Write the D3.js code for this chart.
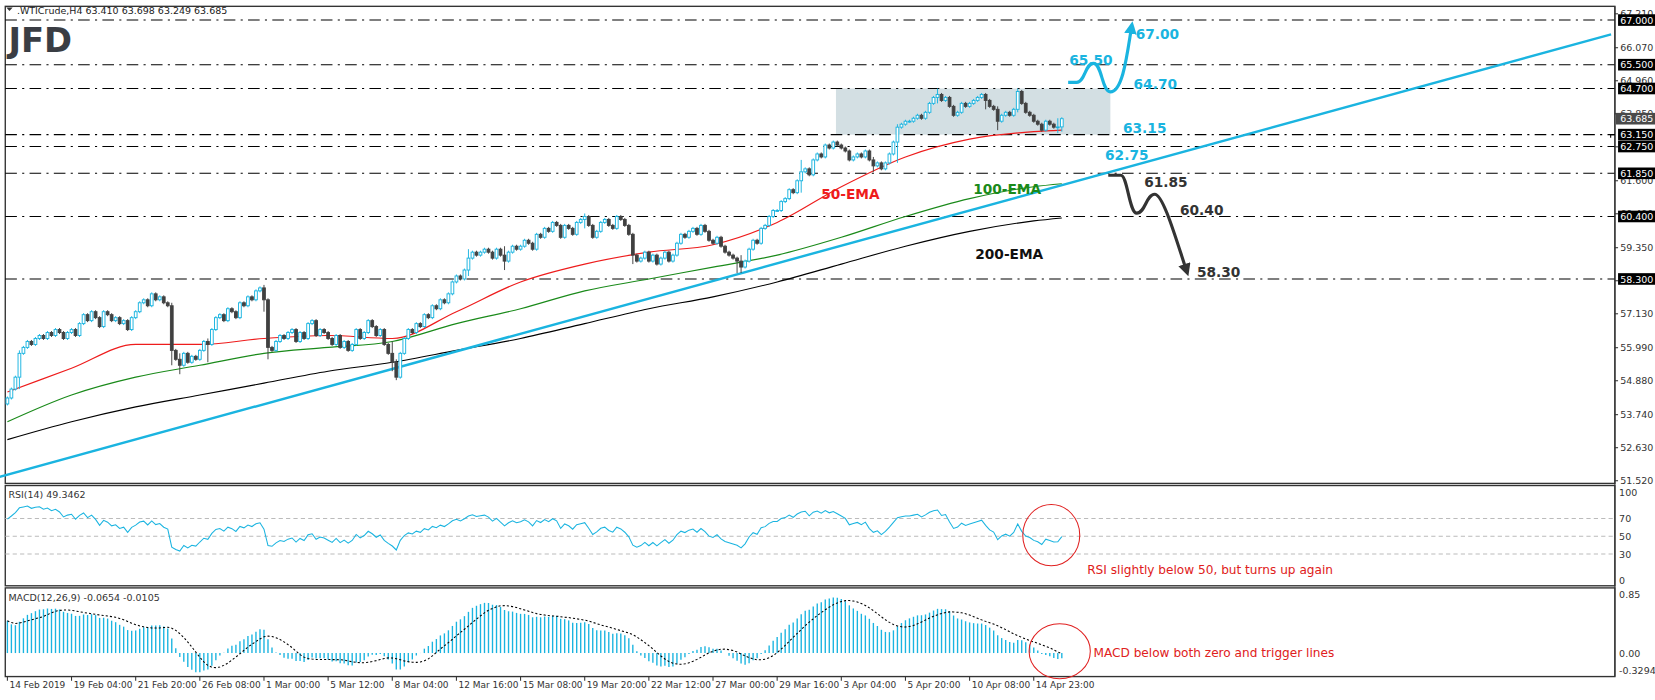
<!DOCTYPE html>
<html>
<head>
<meta charset="utf-8">
<script src="https://cdn.jsdelivr.net/npm/d3@7"></script>
<style>
  body { margin: 0; background: #fff; }
  text { font-family: "DejaVu Sans", Tahoma, sans-serif; }
</style>
</head>
<body>
<svg id="chart" width="1655" height="700"></svg>
<script>
// closes per H4 bar (16 bars per date label)
var closes = [
  54.3,54.6,55.0,55.8,56.0,56.2,56.1,56.3,56.4,56.3,56.5,56.4,56.6,56.5,56.3,56.5,
  56.6,56.4,56.8,57.1,56.9,57.2,57.0,56.7,57.2,57.1,56.9,57.0,56.8,56.9,56.6,57.0,
  57.2,57.5,57.6,57.4,57.8,57.6,57.7,57.5,57.4,55.9,55.6,55.4,55.8,55.5,55.7,55.6,
  55.9,56.2,56.1,56.6,57.0,57.1,56.9,57.3,57.2,57.0,57.5,57.4,57.7,57.6,57.9,58.0,
  57.6,56.0,55.9,56.2,56.4,56.3,56.5,56.6,56.2,56.5,56.3,56.8,56.9,56.4,56.6,56.5,
  56.3,56.1,56.4,56.0,56.2,55.9,56.1,56.6,56.3,56.5,56.9,56.7,56.4,56.6,56.1,55.8,
  55.5,55.0,55.8,56.3,56.6,56.5,56.8,56.7,57.1,57.0,57.4,57.3,57.6,57.5,57.8,58.2,
  58.4,58.3,58.6,59.0,59.2,59.1,59.2,59.3,59.2,59.0,59.3,59.1,58.9,59.2,59.4,59.3,
  59.4,59.6,59.5,59.3,59.8,59.7,60.0,59.9,60.2,60.1,59.7,60.1,60.0,59.8,60.2,60.3,
  60.4,60.1,59.7,59.9,60.2,60.3,60.1,60.0,60.4,60.3,60.1,59.8,59.1,58.9,59.0,59.2,
  58.9,59.1,58.8,59.0,59.2,58.9,59.1,59.5,59.8,59.7,59.9,60.0,59.8,60.1,59.9,59.6,
  59.5,59.7,59.4,59.2,59.1,59.0,58.9,58.7,58.9,59.3,59.6,59.5,60.0,60.1,60.4,60.6,
  60.6,60.9,61.0,61.3,61.2,61.6,61.9,62.0,61.8,62.3,62.5,62.4,62.8,62.7,62.9,62.8,
  62.7,62.6,62.3,62.4,62.5,62.4,62.6,62.3,62.1,62.2,62.0,62.2,62.5,62.9,63.4,63.5,
  63.6,63.6,63.7,63.8,63.7,63.9,64.2,64.4,64.5,64.3,64.4,64.1,63.8,63.9,64.2,64.1,
  64.2,64.3,64.4,64.5,64.3,64.1,64.0,63.6,63.8,63.9,63.8,64.0,64.6,64.2,63.9,63.8,
  63.6,63.5,63.3,63.6,63.5,63.4,63.41,63.685
];
var firstOpen = 54.1;
// notable long wicks [bar, high, low]
var wicks = [[3,55.9,54.6],[41,57.5,55.4],[43,55.8,55.1],[50,56.3,55.5],[64,58.1,57.2],[65,57.6,55.6],
  [96,56.2,55.2],[97,55.6,54.9],[115,59.3,58.4],[124,59.4,58.6],[144,60.5,60.0],[156,59.3,58.8],
  [182,59.0,58.5],[183,59.1,58.5],[198,62.3,61.2],[216,62.4,61.9],[222,63.5,62.2],[232,64.7,64.2],
  [244,64.5,64.0],[247,64.1,63.3],[252,64.7,63.9],[262,63.7,63.2],[263,63.698,63.249]];

// moving averages read at each date label (bar index every 16) plus last bar
var emaBars = [0,16,32,48,64,80,96,112,128,144,160,176,192,208,224,240,256,263];
var ema50  = [54.5,55.3,56.1,56.1,56.3,56.4,56.3,57.2,58.2,58.8,59.2,59.45,60.2,61.4,62.4,63.0,63.25,63.3];
var ema100 = [53.5,54.4,55.0,55.4,55.8,56.0,56.2,56.8,57.3,57.9,58.3,58.7,59.1,59.7,60.4,61.0,61.4,61.5];
var ema200 = [52.9,53.5,54.0,54.4,54.8,55.2,55.5,55.9,56.3,56.8,57.3,57.7,58.2,58.8,59.4,59.9,60.25,60.35];

var levels = [67.00,65.50,64.70,63.15,62.75,61.85,60.40,58.30];
var priceTicks = [67.210,66.070,64.960,63.850,62.740,61.600,60.490,59.350,58.240,57.130,55.990,54.880,53.740,52.630,51.520];
var dateLabels = ["14 Feb 2019","19 Feb 04:00","21 Feb 20:00","26 Feb 08:00","1 Mar 00:00","5 Mar 12:00","8 Mar 04:00",
  "12 Mar 16:00","15 Mar 08:00","19 Mar 20:00","22 Mar 12:00","27 Mar 00:00","29 Mar 16:00","3 Apr 04:00",
  "5 Apr 20:00","10 Apr 08:00","14 Apr 23:00"];
var trendline = [[-8,51.43],[400,66.52]]; // bar index, price

var blue = "#1ab4e0", dark = "#404040";
// layout measured on a 1568-wide view of the reference, scaled up to 1655
var svg = d3.select("#chart").append("g").attr("transform", "scale(" + (1655 / 1568) + ")");
var W = 1530, L = 5;
var x = d3.scaleLinear().domain([0, 263]).range([L + 2, 1006]);
var y = d3.scaleLinear().domain([51.43, 67.39]).range([458, 8]);
var yR = d3.scaleLinear().domain([0, 100]).range([550, 466]);

// bars
var bars = closes.map(function(c, i) {
  var o = i == 0 ? firstOpen : closes[i - 1];
  return {i: i, o: o, c: c, h: Math.max(o, c) + 0.05, l: Math.min(o, c) - 0.05};
});
wicks.forEach(function(w) { bars[w[0]].h = Math.max(bars[w[0]].h, w[1]); bars[w[0]].l = Math.min(bars[w[0]].l, w[2]); });
bars[263].o = 63.41;

// indicators from closes
function ema(arr, n, seed) { var k = 2 / (n + 1), v = seed; return arr.map(function(c) { v = v + k * (c - v); return v; }); }
var e12 = ema(closes, 12, 54.9), e26 = ema(closes, 26, 54.35);
var macd = e12.map(function(v, i) { return v - e26[i]; });
var signal = macd.map(function(v, i) { var s = macd.slice(Math.max(0, i - 8), i + 1); return d3.mean(s); });
var rsi = [], ag = 0.12, al = 0.06;
closes.forEach(function(c, i) {
  var ch = c - (i == 0 ? firstOpen : closes[i - 1]);
  ag = (ag * 13 + Math.max(ch, 0)) / 14; al = (al * 13 + Math.max(-ch, 0)) / 14;
  rsi.push(100 - 100 / (1 + ag / al));
});

// panels
function frame(y0, y1) {
  svg.append("rect").attr("x", L).attr("y", y0).attr("width", W - L).attr("height", y1 - y0)
    .attr("fill", "none").attr("stroke", "#333").attr("stroke-width", 1.3);
}
frame(6, 458); frame(460, 555); frame(557, 641);

// grey range box
svg.append("rect").attr("x", 792).attr("y", y(64.70)).attr("width", 260).attr("height", y(63.15) - y(64.70))
  .attr("fill", "#d3dfe3");

// levels
svg.selectAll(".lev").data(levels).enter().append("line")
  .attr("x1", L).attr("x2", W).attr("y1", function(d) { return y(d); }).attr("y2", function(d) { return y(d); })
  .attr("stroke", "#000").attr("stroke-dasharray", "11,5,2,5");

// emas
var emaLine = d3.line().curve(d3.curveMonotoneX).x(function(d) { return x(d[0]); }).y(function(d) { return y(d[1]); });
[[ema200, "#000"], [ema100, "#1a8a1a"], [ema50, "#ee1c1c"]].forEach(function(e) {
  svg.append("path").attr("d", emaLine(emaBars.map(function(b, i) { return [b, e[0][i]]; })))
    .attr("fill", "none").attr("stroke", e[1]).attr("stroke-width", 1.1);
});

// trendline
svg.append("line").attr("x1", x(trendline[0][0])).attr("y1", y(trendline[0][1])).attr("x2", x(trendline[1][0])).attr("y2", y(trendline[1][1]))
  .attr("stroke", blue).attr("stroke-width", 2.3);

// candles
var cg = svg.append("g");
bars.forEach(function(b) {
  var up = b.c >= b.o, cx = x(b.i);
  var col = up ? blue : dark;
  var t = y(Math.max(b.o, b.c)), bt = y(Math.min(b.o, b.c));
  cg.append("line").attr("x1", cx).attr("x2", cx).attr("y1", y(b.h)).attr("y2", t).attr("stroke", col).attr("stroke-width", 0.9);
  cg.append("line").attr("x1", cx).attr("x2", cx).attr("y1", bt).attr("y2", y(b.l)).attr("stroke", col).attr("stroke-width", 0.9);
  cg.append("rect").attr("x", cx - 1.3).attr("y", t).attr("width", 2.6).attr("height", Math.max(0.8, bt - t))
    .attr("fill", up ? "#fff" : dark).attr("stroke", col).attr("stroke-width", 0.9);
});

// price axis
svg.append("line").attr("x1", W).attr("x2", W).attr("y1", 6).attr("y2", 641).attr("stroke", "#333");
var ax = svg.append("g").attr("font-size", 9).attr("fill", "#333");
priceTicks.forEach(function(p) {
  ax.append("line").attr("x1", W).attr("x2", W + 3).attr("y1", y(p)).attr("y2", y(p)).attr("stroke", "#333");
  ax.append("text").attr("x", W + 5).attr("y", y(p) + 3.5).text(p.toFixed(3));
});
levels.forEach(function(p) {
  ax.append("rect").attr("x", W + 3).attr("y", y(p) - 5.5).attr("width", 35).attr("height", 11).attr("fill", "#000");
  ax.append("text").attr("x", W + 5).attr("y", y(p) + 3.5).attr("fill", "#fff").text(p.toFixed(3));
});
ax.append("rect").attr("x", W + 1).attr("y", y(63.685) - 5.5).attr("width", 38).attr("height", 11).attr("fill", "#4a4a4a");
ax.append("text").attr("x", W + 5).attr("y", y(63.685) + 3.5).attr("fill", "#fff").text("63.685");
svg.append("path").attr("d", "M" + (W - 4) + "," + (y(63.15) + 3) + "v-3h4").attr("fill", "none").attr("stroke", "#000");

// RSI
[70, 50, 30].forEach(function(v) {
  svg.append("line").attr("x1", L).attr("x2", W).attr("y1", yR(v)).attr("y2", yR(v)).attr("stroke", "#bbb").attr("stroke-dasharray", "4,3");
});
[100, 70, 50, 30, 0].forEach(function(v) {
  ax.append("text").attr("x", W + 4).attr("y", yR(v) + 3.5).text(v);
});
svg.append("path").attr("d", d3.line().x(function(d, i) { return x(i); }).y(function(d) { return yR(d); })(rsi))
  .attr("fill", "none").attr("stroke", blue).attr("stroke-width", 1);

// MACD
var mMax = d3.max(macd), mMin = d3.min(macd.concat(signal));
var yM = d3.scaleLinear().domain([mMin, mMax]).range([637, 566]);
ax.append("text").attr("x", W + 4).attr("y", 567).text("0.85");
ax.append("text").attr("x", W + 4).attr("y", yM(0) + 3.5).text("0.00");
ax.append("text").attr("x", W + 4).attr("y", 639).text("-0.3294");
svg.append("g").selectAll("line").data(macd).enter().append("line")
  .attr("x1", function(d, i) { return x(i); }).attr("x2", function(d, i) { return x(i); })
  .attr("y1", yM(0)).attr("y2", function(d) { return yM(d); }).attr("stroke", blue).attr("stroke-width", 1.3);
svg.append("path").attr("d", d3.line().x(function(d, i) { return x(i); }).y(function(d) { return yM(d); })(signal))
  .attr("fill", "none").attr("stroke", "#000").attr("stroke-dasharray", "2,2").attr("stroke-width", 1);

// time axis
dateLabels.forEach(function(t, k) {
  var xx = x(k * 16);
  svg.append("line").attr("x1", xx).attr("x2", xx).attr("y1", 641).attr("y2", 645).attr("stroke", "#333");
  svg.append("text").attr("x", xx + 2).attr("y", 652).attr("font-size", 8.5).attr("fill", "#333").text(t);
});

// header and logo
svg.append("path").attr("d", "M6,7h6l-3,3.5z").attr("fill", "#333");
svg.append("text").attr("x", 16).attr("y", 13).attr("font-size", 9).attr("fill", "#222").text(".WTICrude,H4  63.410 63.698 63.249 63.685");
svg.append("text").attr("x", 8).attr("y", 49).attr("font-size", 32).attr("font-weight", "bold").attr("fill", "#3a3d44")
  .attr("font-family", "Lato, sans-serif").text("JFD");
svg.append("text").attr("x", 8).attr("y", 472).attr("font-size", 9).attr("fill", "#333").text("RSI(14) 49.3462");
svg.append("text").attr("x", 8).attr("y", 569).attr("font-size", 9).attr("fill", "#333").text("MACD(12,26,9) -0.0654 -0.0105");

// annotations
function label(t, xx, yy, col) {
  svg.append("text").attr("x", xx).attr("y", yy).attr("font-size", 13).attr("font-weight", "bold").attr("fill", col)
    .attr("font-family", "'Open Sans', sans-serif").text(t);
}
label("65.50", 1013, 62, blue); label("67.00", 1076, 37, blue); label("64.70", 1074, 84, blue);
label("63.15", 1064, 126, blue); label("62.75", 1047, 152, blue);
label("61.85", 1084, 177, "#333"); label("60.40", 1118, 204, "#333"); label("58.30", 1134, 262, "#333");
label("50-EMA", 778, 189, "#ee1c1c"); label("100-EMA", 922, 184, "#1a8a1a"); label("200-EMA", 924, 245, "#111");

var defs = svg.append("defs");
[["ab", blue], ["ad", "#333"]].forEach(function(m) {
  defs.append("marker").attr("id", m[0]).attr("viewBox", "0 0 10 10").attr("refX", 5).attr("refY", 5)
    .attr("markerWidth", 4).attr("markerHeight", 4).attr("orient", "auto")
    .append("path").attr("d", "M0,0L10,5L0,10z").attr("fill", m[1]);
});
svg.append("path").attr("d", "M1012,78H1020C1028,78 1028,60 1036,60C1044,60 1044,87 1052,87C1064,87 1068,50 1072,26")
  .attr("fill", "none").attr("stroke", blue).attr("stroke-width", 3).attr("marker-end", "url(#ab)");
svg.append("path").attr("d", "M1050,166H1062C1068,166 1070,202 1077,202C1085,202 1086,184 1094,184C1102,184 1114,226 1124,256")
  .attr("fill", "none").attr("stroke", "#333").attr("stroke-width", 3).attr("marker-end", "url(#ad)");

svg.append("ellipse").attr("cx", 996).attr("cy", 507).attr("rx", 27).attr("ry", 29).attr("fill", "none").attr("stroke", "#e02020");
svg.append("text").attr("x", 1030).attr("y", 544).attr("font-size", 11.5).attr("fill", "#e02020").text("RSI slightly below 50, but turns up again");
svg.append("ellipse").attr("cx", 1004).attr("cy", 617).attr("rx", 29).attr("ry", 26).attr("fill", "none").attr("stroke", "#e02020");
svg.append("text").attr("x", 1036).attr("y", 622).attr("font-size", 11.5).attr("fill", "#e02020").text("MACD below both zero and trigger lines");
</script>
</body>
</html>
